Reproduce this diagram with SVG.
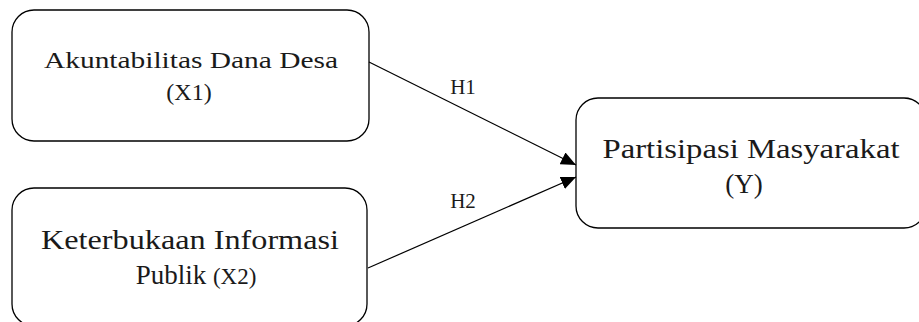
<svg xmlns="http://www.w3.org/2000/svg" width="919" height="322" viewBox="0 0 919 322">
<style>
.box{fill:#fff;stroke:#000;stroke-width:1.3}
.t{font-family:"Liberation Serif","DejaVu Serif",serif;fill:#1a1a1a;text-anchor:middle}
.c{stroke:#000;stroke-width:1.2;fill:none}
</style>
<defs>
<marker id="ah" markerWidth="15" markerHeight="13" refX="15" refY="6.5" orient="auto" markerUnits="userSpaceOnUse" viewBox="0 0 15 13">
<path d="M0,0 L15,6.5 L0,13 Z" fill="#000"/>
</marker>
</defs>
<rect width="919" height="322" fill="#fff"/>
<g id="node-x1">
<rect class="box" x="12" y="10" width="357" height="131" rx="22"/>
<text class="t" x="191" y="68" font-size="24" textLength="294" lengthAdjust="spacingAndGlyphs">Akuntabilitas Dana Desa</text>
<text class="t" x="189" y="100" font-size="24">(X1)</text>
</g>
<g id="node-x2">
<rect class="box" x="12" y="188" width="355" height="138" rx="22"/>
<text class="t" x="190" y="249" font-size="27" textLength="298" lengthAdjust="spacingAndGlyphs">Keterbukaan Informasi</text>
<text class="t" x="196" y="284" font-size="27"><tspan>Publik </tspan><tspan font-size="23">(X2)</tspan></text>
</g>
<g id="node-y">
<rect class="box" x="576" y="98" width="350" height="130" rx="22"/>
<text class="t" x="751" y="158" font-size="27" textLength="297" lengthAdjust="spacingAndGlyphs">Partisipasi Masyarakat</text>
<text class="t" x="744" y="193" font-size="27">(Y)</text>
</g>
<g id="connectors">
<line class="c" x1="369" y1="62" x2="576" y2="165" marker-end="url(#ah)"/>
<line class="c" x1="368" y1="268" x2="576" y2="177" marker-end="url(#ah)"/>
<text class="t" x="463" y="94" font-size="21">H1</text>
<text class="t" x="463" y="208" font-size="21">H2</text>
</g>
</svg>
